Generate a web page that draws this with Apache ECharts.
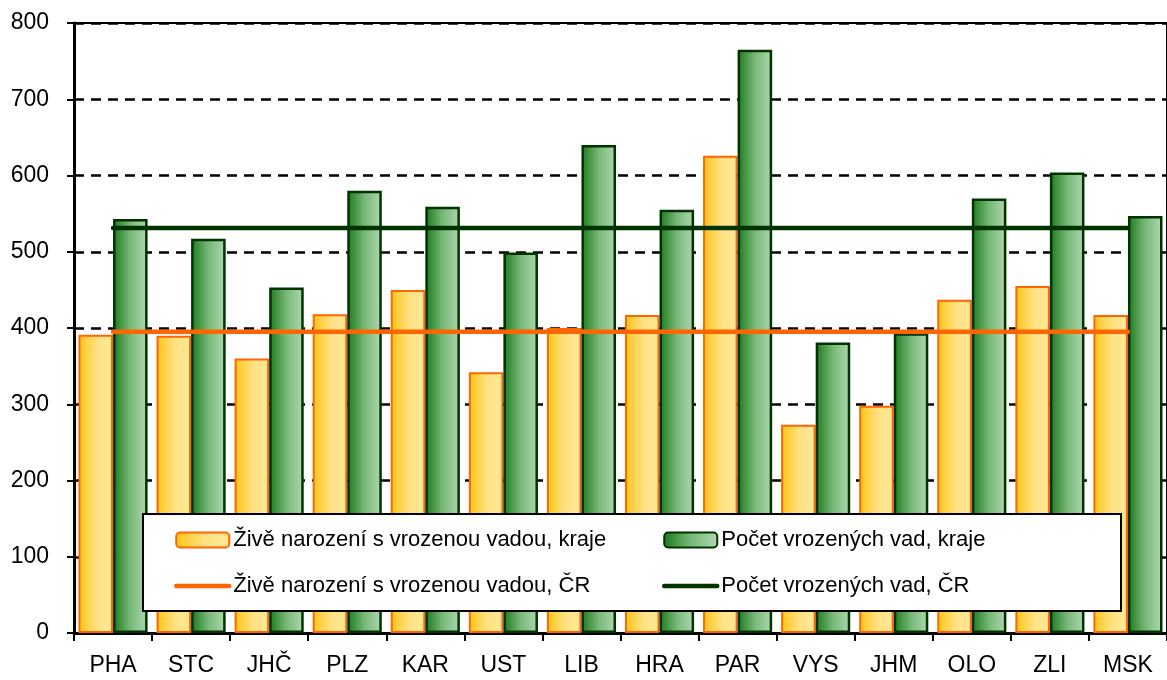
<!DOCTYPE html>
<html>
<head>
<meta charset="utf-8">
<script src="https://cdn.jsdelivr.net/npm/echarts@6/dist/echarts.min.js"></script>
<style>
html,body{margin:0;padding:0;background:#fff;}
#chart{width:1167px;height:680px;}
</style>
</head>
<body>
<div id="chart"></div>
<script>
const categories = ['PHA','STC','JHČ','PLZ','KAR','UST','LIB','HRA','PAR','VYS','JHM','OLO','ZLI','MSK'];
const liveBornRegions = [391, 390, 360, 418, 450, 342, 400, 417, 626, 273, 298, 437, 455, 417];
const defectsRegions = [543, 517, 453, 580, 559, 499, 640, 555, 765, 381, 393, 570, 604, 547];
const liveBornCR = 395;
const defectsCR = 531;
const yTicks = { min: 0, max: 800, interval: 100 };
const seriesNames = [
  'Živě narození s vrozenou vadou, kraje',
  'Počet vrozených vad, kraje',
  'Živě narození s vrozenou vadou, ČR',
  'Počet vrozených vad, ČR'
];

const FONT = '"Liberation Sans", Arial, sans-serif';
const orangeGrad = new echarts.graphic.LinearGradient(0, 0, 1, 0, [
  {offset: 0, color: '#FFC414'},
  {offset: 0.55, color: '#FFE286'},
  {offset: 1, color: '#FFE896'}
]);
const greenGrad = new echarts.graphic.LinearGradient(0, 0, 1, 0, [
  {offset: 0, color: '#1B7A1B'},
  {offset: 0.5, color: '#78B878'},
  {offset: 1, color: '#B0D8B0'}
]);

const legendText = {color: '#000', fontSize: 22, fontFamily: FONT, lineHeight: 26, padding: [0,0,0,-1]};
const hiddenSymbol = {color: 'rgba(0,0,0,0)', borderWidth: 0, borderColor: 'rgba(0,0,0,0)'};

const chart = echarts.init(document.getElementById('chart'), null, {renderer: 'canvas'});
chart.setOption({
  backgroundColor: '#fff',
  animation: false,
  textStyle: {fontFamily: FONT},
  grid: {left: 74, right: -2, top: 23, bottom: 47, show: true, borderColor: '#000', borderWidth: 2, backgroundColor: 'transparent'},
  xAxis: {
    type: 'category',
    data: categories,
    axisLine: {lineStyle: {color: '#000', width: 3}},
    axisTick: {show: true, length: 8, lineStyle: {color: '#000', width: 2}},
    axisLabel: {color: '#000', fontSize: 23, fontFamily: FONT, margin: 21},
    splitLine: {show: false}
  },
  yAxis: {
    type: 'value',
    min: yTicks.min, max: yTicks.max, interval: yTicks.interval,
    axisLine: {show: true, lineStyle: {color: '#000', width: 3}},
    axisTick: {show: true, length: 7, lineStyle: {color: '#000', width: 2}},
    axisLabel: {color: '#000', fontSize: 23, fontFamily: FONT, margin: 25},
    splitLine: {show: true, lineStyle: {color: '#000', width: 2.5, type: [10, 7]}}
  },
  graphic: [{
    type: 'rect', z: 3,
    shape: {x: 143, y: 514, width: 978, height: 97},
    style: {fill: '#fff', stroke: '#000', lineWidth: 2}
  }],
  legend: [{
    orient: 'vertical', left: 169, top: 522,
    itemWidth: 53, itemHeight: 15, itemGap: 20,
    textStyle: legendText,
    data: [
      {name: seriesNames[0]},
      {name: seriesNames[2], itemStyle: hiddenSymbol, lineStyle: {width: 4.5, cap: 'round', color: '#FF6600'}}
    ], z: 5
  }, {
    orient: 'vertical', left: 657, top: 522,
    itemWidth: 53, itemHeight: 15, itemGap: 20,
    textStyle: legendText,
    data: [
      {name: seriesNames[1]},
      {name: seriesNames[3], itemStyle: hiddenSymbol, lineStyle: {width: 4.5, cap: 'round', color: '#003300'}}
    ], z: 5
  }],
  series: [{
    name: seriesNames[0], type: 'bar', data: liveBornRegions,
    barGap: '0%', barCategoryGap: '11.5%',
    itemStyle: {color: orangeGrad, borderColor: '#FF6600', borderWidth: 2}
  }, {
    name: seriesNames[1], type: 'bar', data: defectsRegions,
    barGap: '0%', barCategoryGap: '11.5%',
    itemStyle: {color: greenGrad, borderColor: '#003300', borderWidth: 2.5}
  }, {
    name: seriesNames[2], type: 'line', data: categories.map(() => liveBornCR),
    symbol: 'none', z: 6,
    lineStyle: {color: '#FF6600', width: 4.5, cap: 'round'},
    itemStyle: {color: '#FF6600'}
  }, {
    name: seriesNames[3], type: 'line', data: categories.map(() => defectsCR),
    symbol: 'none', z: 6,
    lineStyle: {color: '#003300', width: 4.5, cap: 'round'},
    itemStyle: {color: '#003300'}
  }]
});
</script>
</body>
</html>
